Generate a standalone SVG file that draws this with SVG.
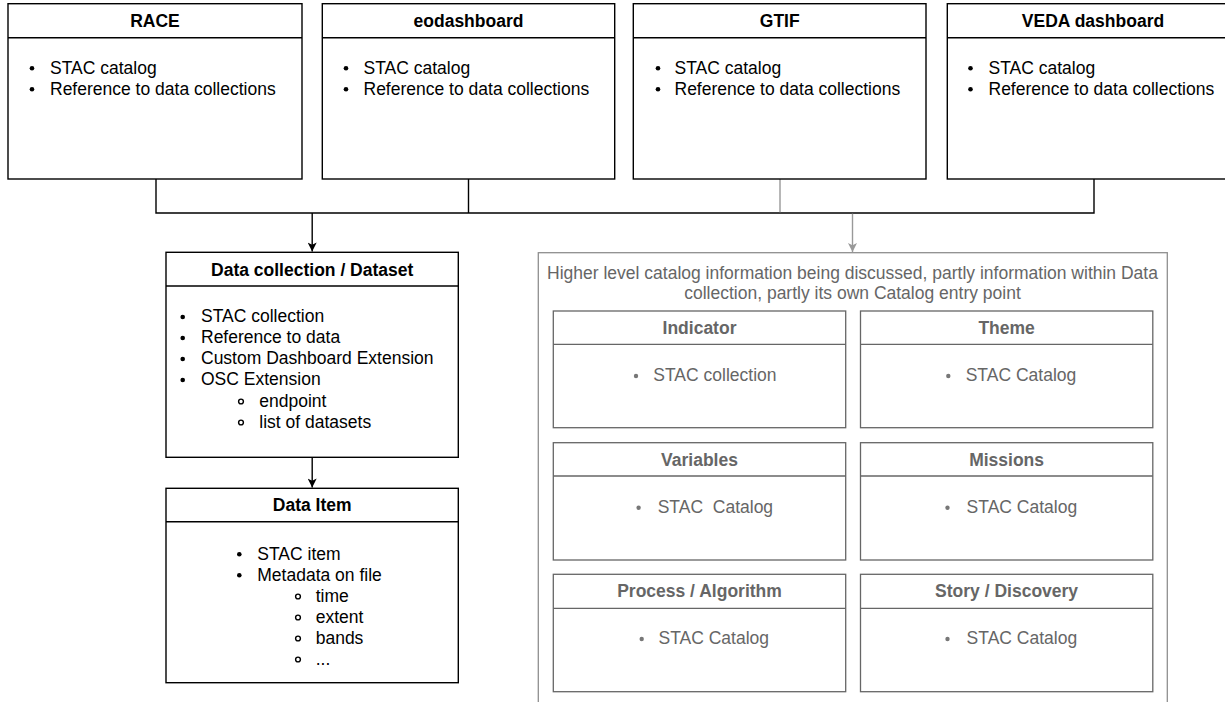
<svg xmlns="http://www.w3.org/2000/svg" width="1225" height="702" viewBox="0 0 1225 702">
  <style>
    .box { fill: #ffffff; stroke: #000000; stroke-width: 1.4; }
    .hdr { fill: none; stroke: #000000; stroke-width: 1.4; }
    .gbox { fill: #ffffff; stroke: #666666; stroke-width: 1.3; }
    .ghdr { fill: none; stroke: #666666; stroke-width: 1.3; }
    .obox { fill: #ffffff; stroke: #8f8f8f; stroke-width: 1.3; }
    text { font-family: "Liberation Sans", Arial, sans-serif; font-size: 17.5px; }
    .t { font-weight: bold; fill: #000000; text-anchor: middle; }
    .b { fill: #000000; }
    .gt { font-weight: bold; fill: #666666; text-anchor: middle; }
    .gb { fill: #666666; }
    .gc { fill: #666666; text-anchor: middle; }
    .dot { fill: #000000; }
    .ring { fill: none; stroke: #000000; stroke-width: 1.4; }
    .gdot { fill: #777777; }
    .edge { fill: none; stroke: #000000; stroke-width: 1.4; }
    .gedge { fill: none; stroke: #999999; stroke-width: 1.4; }
  </style>
  <defs>
    <marker id="arrowBlack" markerUnits="userSpaceOnUse" viewBox="0 0 10 10" refX="10" refY="5" markerWidth="13" markerHeight="9" orient="auto">
      <path d="M0,0 L10,5 L0,10 L2.5,5 Z" fill="#000000"/>
    </marker>
    <marker id="arrowGray" markerUnits="userSpaceOnUse" viewBox="0 0 10 10" refX="10" refY="5" markerWidth="13" markerHeight="9" orient="auto">
      <path d="M0,0 L10,5 L0,10 L2.5,5 Z" fill="#999999"/>
    </marker>
  </defs>

  <!-- Outer gray container (drawn first, behind) -->
  <g id="higher-level">
    <rect class="obox" x="538.3" y="252.7" width="629" height="500"/>
    <text class="gc" x="852.5" y="278.5">Higher level catalog information being discussed, partly information within Data</text>
    <text class="gc" x="852.5" y="299">collection, partly its own Catalog entry point</text>
  </g>

  <!-- Connectors -->
  <g id="connectors">
    <path class="edge" d="M156,179 V213 M468.5,179 V213 M1094,179 V213 M155.3,213 H1094.7"/>
    <path class="gedge" d="M780,179 V212.3"/>
    <path class="edge" d="M312.2,213 V251.6" marker-end="url(#arrowBlack)"/>
    <path class="gedge" d="M852.5,213.7 V252" marker-end="url(#arrowGray)"/>
    <path class="edge" d="M312.2,457.3 V487.6" marker-end="url(#arrowBlack)"/>
  </g>

  <!-- Top boxes -->
  <g id="race">
    <rect class="box" x="8" y="3.7" width="294" height="175.3"/>
    <line class="hdr" x1="8" y1="37.7" x2="302" y2="37.7"/>
    <text class="t" x="155" y="27">RACE</text>
    <circle class="dot" cx="32" cy="68.3" r="2.3"/>
    <text class="b" x="50" y="73.5">STAC catalog</text>
    <circle class="dot" cx="32" cy="89.3" r="2.3"/>
    <text class="b" x="50" y="94.5">Reference to data collections</text>
  </g>
  <g id="eodashboard">
    <rect class="box" x="322.3" y="3.7" width="292.4" height="175.3"/>
    <line class="hdr" x1="322.3" y1="37.7" x2="614.7" y2="37.7"/>
    <text class="t" x="468.5" y="27">eodashboard</text>
    <circle class="dot" cx="346" cy="68.3" r="2.3"/>
    <text class="b" x="363.5" y="73.5">STAC catalog</text>
    <circle class="dot" cx="346" cy="89.3" r="2.3"/>
    <text class="b" x="363.5" y="94.5">Reference to data collections</text>
  </g>
  <g id="gtif">
    <rect class="box" x="633.3" y="3.7" width="292.7" height="175.3"/>
    <line class="hdr" x1="633.3" y1="37.7" x2="926" y2="37.7"/>
    <text class="t" x="779.7" y="27">GTIF</text>
    <circle class="dot" cx="658" cy="68.3" r="2.3"/>
    <text class="b" x="674.5" y="73.5">STAC catalog</text>
    <circle class="dot" cx="658" cy="89.3" r="2.3"/>
    <text class="b" x="674.5" y="94.5">Reference to data collections</text>
  </g>
  <g id="veda-dashboard">
    <rect class="box" x="947.3" y="3.7" width="292.7" height="175.3"/>
    <line class="hdr" x1="947.3" y1="37.7" x2="1240" y2="37.7"/>
    <text class="t" x="1093" y="27">VEDA dashboard</text>
    <circle class="dot" cx="970.5" cy="68.3" r="2.3"/>
    <text class="b" x="988.5" y="73.5">STAC catalog</text>
    <circle class="dot" cx="970.5" cy="89.3" r="2.3"/>
    <text class="b" x="988.5" y="94.5">Reference to data collections</text>
  </g>

  <!-- Data collection / Dataset -->
  <g id="data-collection">
    <rect class="box" x="166" y="252.3" width="292.3" height="205"/>
    <line class="hdr" x1="166" y1="286" x2="458.3" y2="286"/>
    <text class="t" x="312.2" y="275.5">Data collection / Dataset</text>
    <circle class="dot" cx="182.7" cy="317" r="2.3"/>
    <text class="b" x="201" y="322.3">STAC collection</text>
    <circle class="dot" cx="182.7" cy="338" r="2.3"/>
    <text class="b" x="201" y="343.3">Reference to data</text>
    <circle class="dot" cx="182.7" cy="359" r="2.3"/>
    <text class="b" x="201" y="364.3">Custom Dashboard Extension</text>
    <circle class="dot" cx="182.7" cy="380" r="2.3"/>
    <text class="b" x="201" y="385.3">OSC Extension</text>
    <circle class="ring" cx="241" cy="401.5" r="2.4"/>
    <text class="b" x="259.3" y="406.8">endpoint</text>
    <circle class="ring" cx="241" cy="422.5" r="2.4"/>
    <text class="b" x="259.3" y="427.8">list of datasets</text>
  </g>

  <!-- Data Item -->
  <g id="data-item">
    <rect class="box" x="166" y="488.3" width="292.3" height="194.4"/>
    <line class="hdr" x1="166" y1="521.7" x2="458.3" y2="521.7"/>
    <text class="t" x="312.2" y="511.3">Data Item</text>
    <circle class="dot" cx="239.3" cy="554.3" r="2.3"/>
    <text class="b" x="257.3" y="559.5">STAC item</text>
    <circle class="dot" cx="239.3" cy="575.3" r="2.3"/>
    <text class="b" x="257.3" y="580.5">Metadata on file</text>
    <circle class="ring" cx="298" cy="596.5" r="2.4"/>
    <text class="b" x="315.7" y="601.7">time</text>
    <circle class="ring" cx="298" cy="617.5" r="2.4"/>
    <text class="b" x="315.7" y="622.7">extent</text>
    <circle class="ring" cx="298" cy="638.5" r="2.4"/>
    <text class="b" x="315.7" y="643.7">bands</text>
    <circle class="ring" cx="298" cy="659.5" r="2.4"/>
    <text class="b" x="315.7" y="664.7">...</text>
  </g>

  <!-- Inner gray boxes -->
  <g id="indicator">
    <rect class="gbox" x="553.3" y="311" width="292.4" height="116.7"/>
    <line class="ghdr" x1="553.3" y1="344.3" x2="845.7" y2="344.3"/>
    <text class="gt" x="699.5" y="334">Indicator</text>
    <circle class="gdot" cx="636" cy="376" r="2.2"/>
    <text class="gb" x="653.3" y="381.3">STAC collection</text>
  </g>
  <g id="theme">
    <rect class="gbox" x="860.5" y="311" width="292.3" height="116.7"/>
    <line class="ghdr" x1="860.5" y1="344.3" x2="1152.8" y2="344.3"/>
    <text class="gt" x="1006.6" y="334">Theme</text>
    <circle class="gdot" cx="948.3" cy="376" r="2.2"/>
    <text class="gb" x="965.7" y="381.3">STAC Catalog</text>
  </g>
  <g id="variables">
    <rect class="gbox" x="553.3" y="442.7" width="292.4" height="117.3"/>
    <line class="ghdr" x1="553.3" y1="476" x2="845.7" y2="476"/>
    <text class="gt" x="699.5" y="465.7">Variables</text>
    <circle class="gdot" cx="638.6" cy="507.7" r="2.2"/>
    <text class="gb" x="657.7" y="513" xml:space="preserve">STAC  Catalog</text>
  </g>
  <g id="missions">
    <rect class="gbox" x="860.5" y="442.7" width="292.3" height="117.3"/>
    <line class="ghdr" x1="860.5" y1="476" x2="1152.8" y2="476"/>
    <text class="gt" x="1006.6" y="465.7">Missions</text>
    <circle class="gdot" cx="947.5" cy="507.7" r="2.2"/>
    <text class="gb" x="966.6" y="513">STAC Catalog</text>
  </g>
  <g id="process-algorithm">
    <rect class="gbox" x="553.3" y="574.3" width="292.4" height="117.4"/>
    <line class="ghdr" x1="553.3" y1="608.3" x2="845.7" y2="608.3"/>
    <text class="gt" x="699.5" y="597.3">Process / Algorithm</text>
    <circle class="gdot" cx="641.7" cy="639" r="2.2"/>
    <text class="gb" x="658.5" y="644.3">STAC Catalog</text>
  </g>
  <g id="story-discovery">
    <rect class="gbox" x="860.5" y="574.3" width="292.3" height="117.4"/>
    <line class="ghdr" x1="860.5" y1="608.3" x2="1152.8" y2="608.3"/>
    <text class="gt" x="1006.6" y="597.3">Story / Discovery</text>
    <circle class="gdot" cx="947.5" cy="639" r="2.2"/>
    <text class="gb" x="966.6" y="644.3">STAC Catalog</text>
  </g>
</svg>
